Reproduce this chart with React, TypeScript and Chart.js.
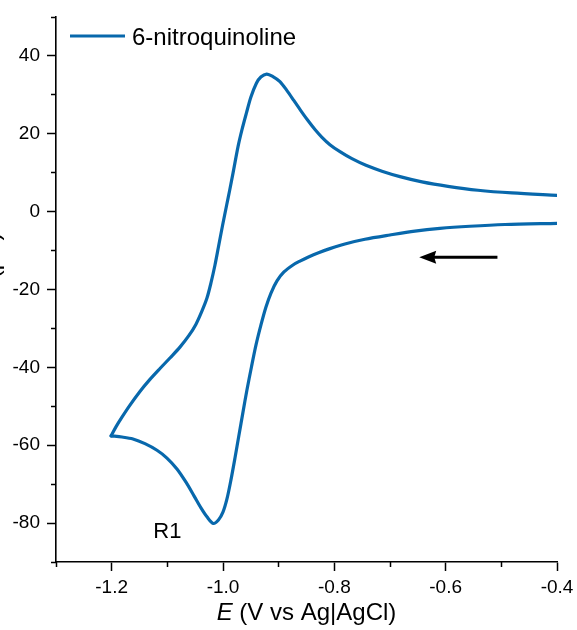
import React, { useEffect, useRef } from 'react';
import { Chart, registerables } from 'chart.js';

Chart.register(...registerables);

const FONT = "'Liberation Sans', Arial, Helvetica, sans-serif";
const LINE_COLOR = '#0868ac';

// Cathodic scan: -0.4 V -> -1.2 V (reduction peak R1)
const cathodicE = [
  -0.400, -0.4935, -0.5564, -0.6103, -0.6552, -0.7001, -0.7450, -0.7810, -0.8079, -0.8295,
  -0.8474, -0.8618, -0.8743, -0.8905, -0.9030, -0.9138, -0.9228, -0.9318, -0.9408, -0.9489,
  -0.9570, -0.9641, -0.9713, -0.9785, -0.9857, -0.9929, -1.0001, -1.0082, -1.0175, -1.0288,
  -1.0396, -1.0521, -1.0665, -1.0827, -1.1007, -1.1186, -1.1402, -1.1617, -1.1815, -1.2010,
];
const cathodicI = [
  -3.0, -3.3, -3.75, -4.3, -5.0, -6.0, -7.1, -8.3, -9.5, -10.6,
  -11.7, -12.7, -13.7, -15.5, -17.8, -20.9, -24.5, -29.1, -34.3, -39.9,
  -45.8, -51.5, -57.4, -63.3, -68.9, -73.8, -77.2, -79.2, -80.1, -78.4,
  -76.1, -73.0, -69.5, -66.1, -63.3, -61.3, -59.6, -58.4, -57.9, -57.6,
];
// Anodic (return) scan: -1.2 V -> -0.4 V
const anodicE = [
  -1.2010, -1.1923, -1.1815, -1.1671, -1.1492, -1.1312, -1.1132, -1.0953, -1.0773, -1.0611,
  -1.0485, -1.0377, -1.0288, -1.0216, -1.0144, -1.0082, -1.0010, -0.9934, -0.988, -0.982,
  -0.973, -0.966, -0.958, -0.950, -0.940, -0.932, -0.9216, -0.9103, -0.8977, -0.8851,
  -0.8725, -0.8600, -0.8474, -0.8348, -0.8222, -0.8079, -0.7899, -0.7684, -0.7432, -0.7145,
  -0.6821, -0.6426, -0.5959, -0.5420, -0.4809, -0.400,
];
const anodicI = [
  -57.6, -55.3, -52.8, -49.7, -46.2, -43.1, -40.3, -37.6, -34.8, -31.8,
  -28.9, -25.5, -22.2, -18.3, -13.7, -9.1, -3.7, 1.7, 5.5, 9.9,
  16.7, 21.0, 25.3, 29.4, 33.0, 34.6, 35.35, 34.7, 33.4, 31.1,
  28.5, 25.9, 23.4, 21.1, 19.1, 17.2, 15.4, 13.6, 11.9, 10.4,
  9.0, 7.65, 6.5, 5.5, 4.8, 4.2,
];

const seriesLabel = '6-nitroquinoline';
const xMajorTicks = [-1.2, -1.0, -0.8, -0.6, -0.4];
const xTickLabels = ['-1.2', '-1.0', '-0.8', '-0.6', '-0.4'];
const xMinorTicks = [-1.3, -1.1, -0.9, -0.7, -0.5];
const yMajorTicks = [-80, -60, -40, -20, 0, 20, 40];
const yTickLabels = ['-80', '-60', '-40', '-20', '0', '20', '40'];
const yMinorTicks = [-90, -70, -50, -30, -10, 10, 30, 50];
const xRange = [-1.3, -0.4];
const yRange = [-90, 50];

const peakLabelText = 'R1';
const peakLabelAt = [-1.10, -81.8];
const arrowTail = [-0.507, -11.7];
const arrowTip = [-0.6475, -11.7];

const xTitleItalic = 'E';
const xTitleRest = ' (V vs Ag|AgCl)';
const yTitleItalic = 'I';
const yTitleRest = ' (μA)';

function drawMixed(ctx: CanvasRenderingContext2D, italic: string, rest: string, size: number, cx: number, baseline: number) {
  ctx.font = `italic ${size}px ${FONT}`;
  const w1 = ctx.measureText(italic).width;
  ctx.font = `${size}px ${FONT}`;
  const w2 = ctx.measureText(rest).width;
  const start = cx - (w1 + w2) / 2;
  ctx.textAlign = 'left';
  ctx.textBaseline = 'alphabetic';
  ctx.font = `italic ${size}px ${FONT}`;
  ctx.fillText(italic, start, baseline);
  ctx.font = `${size}px ${FONT}`;
  ctx.fillText(rest, start + w1, baseline);
}

const annotations = {
  id: 'annotations',
  afterDraw(chart: any) {
    const ctx: CanvasRenderingContext2D = chart.ctx;
    const xs = chart.scales.x;
    const ys = chart.scales.y;
    const area = chart.chartArea;
    ctx.save();
    ctx.fillStyle = '#000';

    // legend
    ctx.strokeStyle = LINE_COLOR;
    ctx.lineWidth = 3;
    ctx.beginPath();
    ctx.moveTo(area.left + 14, area.top + 19);
    ctx.lineTo(area.left + 69, area.top + 19);
    ctx.stroke();
    ctx.font = `24px ${FONT}`;
    ctx.textAlign = 'left';
    ctx.textBaseline = 'alphabetic';
    ctx.fillText(seriesLabel, area.left + 76, area.top + 28);

    // peak label
    ctx.font = `22px ${FONT}`;
    ctx.textAlign = 'center';
    ctx.fillText(peakLabelText, xs.getPixelForValue(peakLabelAt[0]), ys.getPixelForValue(peakLabelAt[1]) + 8);

    // scan direction arrow
    const tx = xs.getPixelForValue(arrowTail[0]);
    const ty = ys.getPixelForValue(arrowTail[1]);
    const hx = xs.getPixelForValue(arrowTip[0]);
    const hy = ys.getPixelForValue(arrowTip[1]);
    ctx.strokeStyle = '#000';
    ctx.lineWidth = 3;
    ctx.beginPath();
    ctx.moveTo(tx, ty);
    ctx.lineTo(hx + 12, hy);
    ctx.stroke();
    ctx.beginPath();
    ctx.moveTo(hx, hy);
    ctx.lineTo(hx + 17, hy - 6.5);
    ctx.lineTo(hx + 15, hy);
    ctx.lineTo(hx + 17, hy + 6.5);
    ctx.closePath();
    ctx.fill();

    // x title
    drawMixed(ctx, xTitleItalic, xTitleRest, 24, (area.left + area.right) / 2, 620);

    // y title (mostly cut off at left edge)
    ctx.save();
    ctx.translate(-1.5, 262);
    ctx.rotate(-Math.PI / 2);
    drawMixed(ctx, yTitleItalic, yTitleRest, 24, 0, 0);
    ctx.restore();

    ctx.restore();
  },
};

const tickFont = { family: FONT, size: 19 };

const lineStyle = {
  borderColor: LINE_COLOR,
  backgroundColor: LINE_COLOR,
  borderWidth: 3.2,
  borderJoinStyle: 'round',
  borderCapStyle: 'round',
  pointRadius: 0,
  tension: 0.3,
  fill: false,
};

export default function App() {
  const ref = useRef<HTMLCanvasElement | null>(null);
  useEffect(() => {
    if (!ref.current) return;
    const cathodic = cathodicE.map((x, i) => ({ x, y: cathodicI[i] }));
    const anodic = anodicE.map((x, i) => ({ x, y: anodicI[i] }));
    const chart = new Chart(ref.current, {
      type: 'line',
      data: {
        datasets: [
          { label: seriesLabel, data: cathodic, ...lineStyle },
          { label: seriesLabel + ' (return)', data: anodic, ...lineStyle },
        ],
      },
      options: {
        animation: false,
        responsive: false,
        events: [],
        layout: { padding: { left: 0, top: 17, right: 20, bottom: 0 } },
        plugins: { legend: { display: false }, tooltip: { enabled: false }, title: { display: false } },
        scales: {
          xm: {
            type: 'linear',
            position: 'bottom',
            weight: 0,
            min: xRange[0],
            max: xRange[1],
            afterBuildTicks: (s: any) => { s.ticks = xMinorTicks.map((v) => ({ value: v })); },
            afterFit: (s: any) => { s.height = 0; s.paddingLeft = 0; s.paddingRight = 0; },
            grid: { display: true, drawOnChartArea: false, tickLength: 5, tickWidth: 1.5, tickColor: '#000' },
            border: { display: false },
            ticks: { display: false },
          },
          ym: {
            type: 'linear',
            position: 'left',
            weight: 0,
            min: yRange[0],
            max: yRange[1],
            afterBuildTicks: (s: any) => { s.ticks = yMinorTicks.map((v) => ({ value: v })); },
            afterFit: (s: any) => { s.width = 0; s.paddingTop = 0; s.paddingBottom = 0; },
            grid: { display: true, drawOnChartArea: false, tickLength: 5, tickWidth: 1.5, tickColor: '#000' },
            border: { display: false },
            ticks: { display: false },
          },
          x: {
            type: 'linear',
            position: 'bottom',
            weight: 1,
            min: xRange[0],
            max: xRange[1],
            afterBuildTicks: (s: any) => { s.ticks = xMajorTicks.map((v) => ({ value: v })); },
            afterFit: (s: any) => { s.height = 68; s.paddingLeft = 0; s.paddingRight = 0; },
            grid: { display: true, drawOnChartArea: false, tickLength: 9, tickWidth: 1.5, tickColor: '#000' },
            border: { display: true, color: '#000', width: 1.6 },
            ticks: {
              color: '#000',
              font: tickFont,
              padding: 5,
              maxRotation: 0,
              autoSkip: false,
              callback: (_v: any, i: number) => xTickLabels[i],
            },
          },
          y: {
            type: 'linear',
            position: 'left',
            weight: 1,
            min: yRange[0],
            max: yRange[1],
            afterBuildTicks: (s: any) => { s.ticks = yMajorTicks.map((v) => ({ value: v })); },
            afterFit: (s: any) => { s.width = 56; s.paddingTop = 0; s.paddingBottom = 0; },
            grid: { display: true, drawOnChartArea: false, tickLength: 9, tickWidth: 1.5, tickColor: '#000' },
            border: { display: true, color: '#000', width: 1.6 },
            ticks: {
              color: '#000',
              font: tickFont,
              padding: 7,
              autoSkip: false,
              callback: (_v: any, i: number) => yTickLabels[i],
            },
          },
        },
      } as any,
      plugins: [annotations],
    });
    return () => chart.destroy();
  }, []);

  return (
    <div style={{ position: 'fixed', left: 0, top: 0, width: 577, height: 630, background: '#fff' }}>
      <canvas ref={ref} width={577} height={630} style={{ display: 'block', width: 577, height: 630 }} />
    </div>
  );
}
